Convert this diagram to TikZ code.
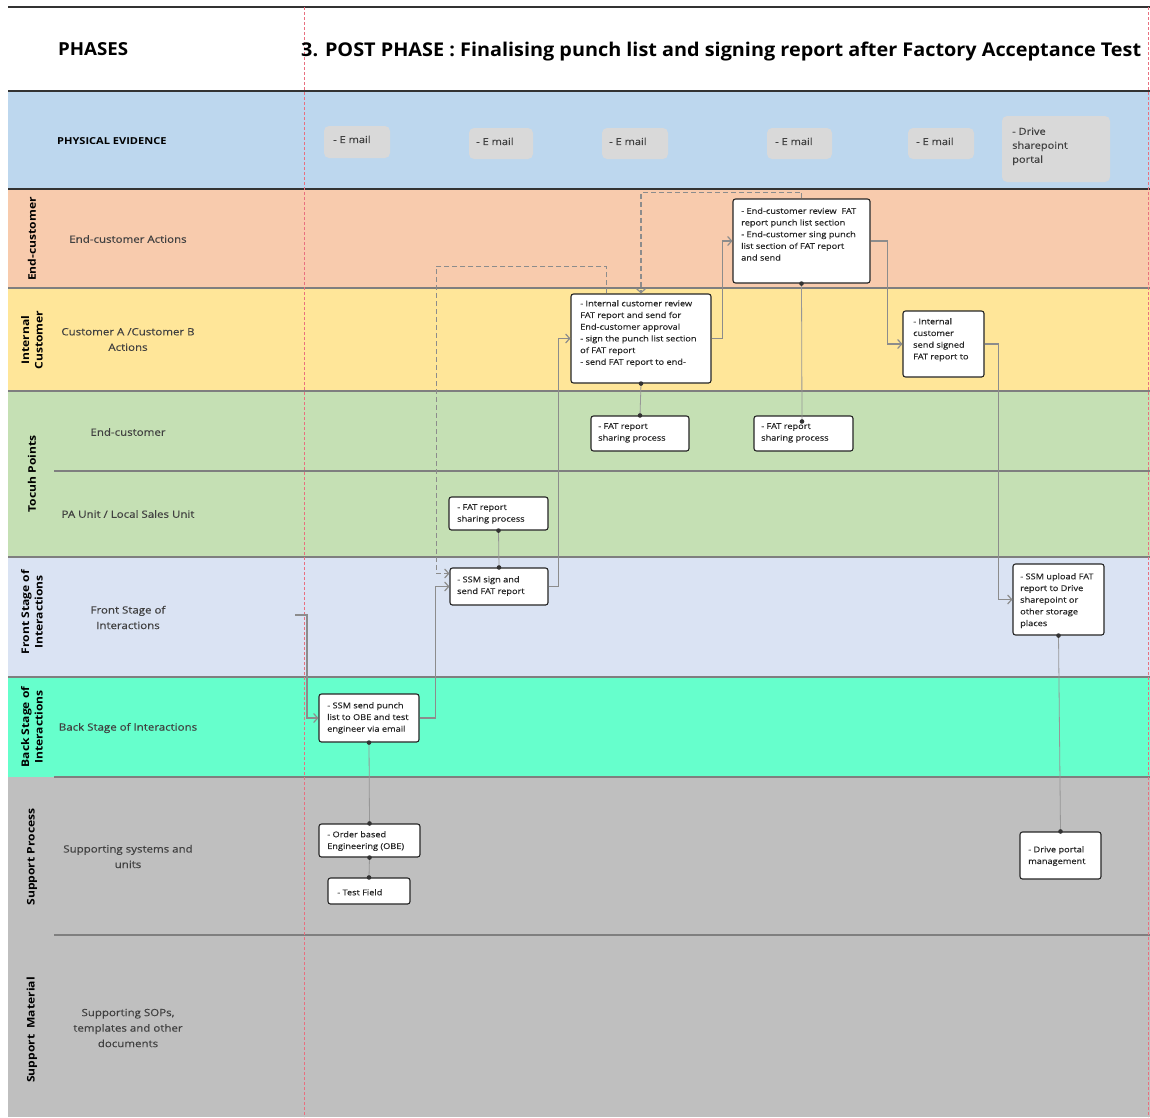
\documentclass[tikz,border=0pt]{standalone}
\usepackage{fontspec}
\setmainfont{Open Sans}[FakeStretch=1.15]
\newfontfamily\medfont{Open Sans}[FakeStretch=1.15, FakeBold=0.35]
\usepackage{graphicx}
\usetikzlibrary{arrows.meta,fit,calc}

\definecolor{bandPE}{HTML}{BDD7EE}
\definecolor{bandEC}{HTML}{F8CBAD}
\definecolor{bandIC}{HTML}{FFE699}
\definecolor{bandTP}{HTML}{C5E0B4}
\definecolor{bandFS}{HTML}{DAE3F3}
\definecolor{bandBS}{HTML}{66FFCC}
\definecolor{bandSP}{HTML}{BFBFBF}
\definecolor{evbox}{HTML}{D9D9D9}
\definecolor{rule}{HTML}{7F7F7F}
\definecolor{darkrule}{HTML}{333333}
\definecolor{flow}{HTML}{8C8C8C}
\definecolor{labeltext}{HTML}{404040}
\definecolor{phaseline}{HTML}{E8707F}

\begin{document}
\begin{tikzpicture}[x=1pt,y=-1pt,
  proc/.style={draw=black!85, line width=1.1pt, rounded corners=2.5pt, fill=white, inner sep=0pt},
  ptxt/.style={anchor=north west, inner sep=0pt, align=left, text=black!85, font=\medfont\fontsize{8}{11.7}\selectfont},
  evid/.style={fill=evbox, draw=none, rounded corners=5pt, inner sep=0pt},
  etxt/.style={anchor=north west, inner sep=0pt, align=left, text=black!75, font=\medfont\fontsize{9.6}{14}\selectfont},
  lane/.style={align=center, text=labeltext, font=\medfont\fontsize{10}{15.5}\selectfont},
  side/.style={rotate=90, align=center, font=\bfseries\fontsize{10.5}{13.5}\selectfont},
  flowline/.style={draw=flow, line width=1.2pt, -{Straight Barb[length=4pt,width=9pt]}},
  backflow/.style={flowline, dash pattern=on 5pt off 3pt},
  tie/.style={draw=flow!90, line width=0.8pt},
  pin/.style={fill=black!80},
  lanerule/.style={draw=rule, line width=1.2pt},
  mainrule/.style={draw=darkrule, line width=1.8pt},
  phase/.style={draw=phaseline, line width=0.6pt, dash pattern=on 3pt off 2pt},
]
\useasboundingbox (0,0) rectangle (1150,1117);

% swim lanes
\fill[bandPE] (8,91) rectangle (1150,189);
\fill[bandEC] (8,189) rectangle (1150,288);
\fill[bandIC] (8,288) rectangle (1150,391);
\fill[bandTP] (8,391) rectangle (1150,557);
\fill[bandFS] (8,557) rectangle (1150,677);
\fill[bandBS] (8,677) rectangle (1150,777);
\fill[bandSP] (8,777) rectangle (1150,1117);

% lane borders
\draw[lanerule] (8,288) -- (1150,288);
\draw[lanerule] (8,391) -- (1150,391);
\draw[lanerule] (54,471) -- (1150,471);
\draw[lanerule] (8,557) -- (1150,557);
\draw[lanerule] (8,677) -- (1150,677);
\draw[lanerule] (54,777) -- (1150,777);
\draw[lanerule] (54,935) -- (1150,935);
\draw[mainrule, line width=1.5pt] (8,7) -- (1150,7);
\draw[mainrule] (8,91) -- (1150,91);
\draw[mainrule] (8,189) -- (1150,189);

% phase separators
\draw[phase] (304,7) -- (304,1117);
\draw[phase] (1148,7) -- (1148,1117);

% header
\node[anchor=base west, inner sep=0pt] (hPh) at (58,55)
  {\resizebox{70pt}{13pt}{\bfseries PHASES}};
\node[anchor=base west, inner sep=0pt] (hTitle) at (301,56)
  {\resizebox{840pt}{14.5pt}{\bfseries 3. POST PHASE : Finalising punch list and signing report after Factory Acceptance Test}};

% side titles
\node[side] (sEC) at (32,239) {End-customer};
\node[side] (sIC) at (32,340) {Internal\\Customer};
\node[side] (sTP) at (32,474) {Tocuh Points};
\node[side] (sFS) at (32,612) {Front Stage of\\Interactions};
\node[side] (sBS) at (32,727) {Back Stage of\\Interactions};
\node[side] (sSP) at (32,857) {Support Process};
\node[side] (sSM) at (32,1030) {Support~ Material};

% lane titles
\node[anchor=west, inner sep=0pt, font=\bfseries\fontsize{9.6}{12}\selectfont] (lPE) at (57,141) {PHYSICAL EVIDENCE};
\node[lane] (lEC) at (128,239) {End-customer Actions};
\node[lane] (lIC) at (128,339.5) {Customer A /Customer B\\Actions};
\node[lane] (lTE) at (128,432) {End-customer};
\node[lane] (lTP) at (128,514) {PA Unit / Local Sales Unit};
\node[lane] (lFS) at (128,617.5) {Front Stage of\\Interactions};
\node[lane] (lBS) at (128,728) {Back Stage of Interactions};
\node[lane] (lSP) at (128,856.5) {Supporting systems and\\units};
\node[lane] (lSM) at (128,1028) {Supporting SOPs,\\templates and other\\documents};

% physical evidence
\node[evid, fit={(324,126)(390,158)}] (ev1) {};
\node[evid, fit={(469,128)(533,159)}] (ev2) {};
\node[evid, fit={(602,128)(668,159)}] (ev3) {};
\node[evid, fit={(767,128)(832,159)}] (ev4) {};
\node[evid, fit={(908,128)(974,159)}] (ev5) {};
\node[evid, fit={(1002,116)(1110,182)}] (ev6) {};
\node[etxt] (ev1t) at (333,135.5) {- E mail};
\node[etxt] (ev2t) at (476,137.5) {- E mail};
\node[etxt] (ev3t) at (609,137.5) {- E mail};
\node[etxt] (ev4t) at (775,137.5) {- E mail};
\node[etxt] (ev5t) at (916,137.5) {- E mail};
\node[etxt] (ev6t) at (1012,127.5) {- Drive\\sharepoint\\portal};

% process steps
\node[proc, fit={(733,199)(870,283)}] (A) {};
\node[proc, fit={(571,294)(711,383)}] (B) {};
\node[proc, fit={(903,311)(984,377)}] (C) {};
\node[proc, fit={(591,416)(689,451)}] (D) {};
\node[proc, fit={(754,416)(853,451)}] (E) {};
\node[proc, fit={(449,497)(548,530)}] (F) {};
\node[proc, fit={(450,568)(548,605)}] (G) {};
\node[proc, fit={(1013,564)(1104,635)}] (H) {};
\node[proc, fit={(319,694)(419,742)}] (I) {};
\node[proc, fit={(319,824)(420,857)}] (J) {};
\node[proc, fit={(328,878)(410,904)}] (K) {};
\node[proc, fit={(1020,832)(1101,879)}] (L) {};

\node[ptxt] (At) at (741,207.5) {- End-customer review\ \ FAT\\report punch list section\\- End-customer sing punch\\list section of FAT report\\and send};
\node[ptxt] (Bt) at (580,300) {- Internal customer review\\FAT report and send for\\End-customer approval\\- sign the punch list section\\of FAT report\\- send FAT report to end-};
\node[ptxt] (Ct) at (913,318) {- Internal\\customer\\send signed\\FAT report to};
\node[ptxt] (Dt) at (598,423) {- FAT report\\sharing process};
\node[ptxt] (Et) at (761,423) {- FAT report\\sharing process};
\node[ptxt] (Ft) at (457,504) {- FAT report\\sharing process};
\node[ptxt] (Gt) at (457,576) {- SSM sign and\\send FAT report};
\node[ptxt] (Ht) at (1020,573) {- SSM upload FAT\\report to Drive\\sharepoint or\\other storage\\places};
\node[ptxt] (It) at (327,702) {- SSM send punch\\list to OBE and test\\engineer via email};
\node[ptxt] (Jt) at (327,831) {- Order based\\Engineering (OBE)};
\node[ptxt] (Kt) at (337,889) {- Test Field};
\node[ptxt] (Lt) at (1028,846) {- Drive portal\\management};

% forward flow
\coordinate (s0) at (295,615);
\draw[flowline] (s0) -- ++(12,0) |- (I.west);
\draw[flowline] (I.east) -- ++(16,0) |- (G.west);
\draw[flowline] (G.east) -- ++(10,0) |- (B.west);
\draw[flowline] (B.east) -- ++(11,0) |- (A.west);
\draw[flowline] (A.east) -- ++(17,0) |- (C.west);
\draw[flowline] (C.east) -- ++(14,0) |- (H.west);

% returning flow
\draw[backflow] (A.north) -- ++(0,-6) -| (B.north);
\coordinate (b0) at ($(B.north west)+(36,0)$);
\coordinate (g0) at ($(G.west)+(0,-13)$);
\draw[backflow] (b0) -- ++(0,-27) -| ($(g0)+(-13,0)$) -- (g0);

% links between steps and their supports
\coordinate (e1) at ($(E.north)+(-1.5,6)$);
\draw[tie] (B.south) -- (D.north);
\draw[tie] (A.south) -- (e1);
\draw[tie] (F.south) -- (G.north);
\draw[tie] (H.south) -- (L.north);
\draw[tie] (I.south) -- (J.north);
\draw[tie] (J.south) -- (K.north);
\foreach \p in {B.south, D.north, A.south, e1, F.south, G.north, H.south, L.north, I.south, J.north, J.south, K.north}
  \fill[pin] (\p) circle (2.3pt);
\end{tikzpicture}
\end{document}
